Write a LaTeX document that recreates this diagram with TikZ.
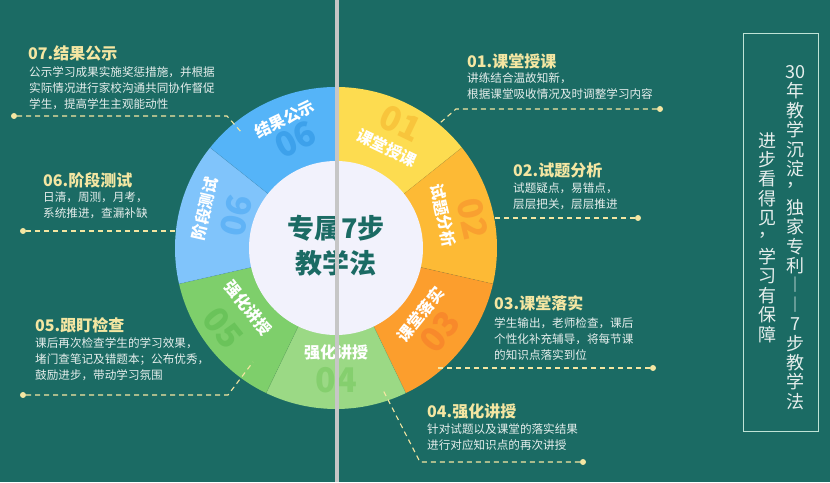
\documentclass[tikz,border=0pt]{standalone}
\usepackage{fontspec}
\setmainfont{Noto Sans CJK SC}
\usetikzlibrary{calc}
\definecolor{bg}{HTML}{1B6B64}
\definecolor{sa}{HTML}{FDDC50}\definecolor{na}{HTML}{F8C53C}
\definecolor{sb}{HTML}{FDBA35}\definecolor{nb}{HTML}{F9A030}
\definecolor{sc}{HTML}{FC9E2D}\definecolor{nc}{HTML}{F8892B}
\definecolor{sd}{HTML}{9BD985}\definecolor{nd}{HTML}{85CF6E}
\definecolor{se}{HTML}{7ECF6B}\definecolor{ne}{HTML}{6AC35A}
\definecolor{sf}{HTML}{80C4FB}\definecolor{nf}{HTML}{60B3F6}
\definecolor{sg}{HTML}{55B4F8}\definecolor{ng}{HTML}{3DA1EB}
\definecolor{inner}{HTML}{F2F2FC}
\definecolor{cream}{HTML}{F4E6A2}
\definecolor{bodytxt}{HTML}{E6EEEC}
\definecolor{boxline}{HTML}{BFE3D6}
\definecolor{divider}{HTML}{C6C6C6}
\tikzset{
  seglabel/.style={font=\fontsize{16}{16}\selectfont\bfseries, text=white, inner sep=0pt},
  segnum/.style={font=\fontsize{34}{34}\selectfont\bfseries, inner sep=0pt},
  title/.style={font=\fontsize{16}{16}\selectfont\bfseries, text=cream, anchor=west, inner sep=0pt},
  body/.style={font=\fontsize{11.6}{16}\selectfont, text=bodytxt, anchor=north west, align=left, inner sep=0pt},
  leader/.style={draw=cream, line width=1.1pt, dash pattern=on 5pt off 4pt},
  enddot/.style={circle, fill=cream, minimum size=6pt, inner sep=0pt},
  vtext/.style={font=\fontsize{18}{19.4}\selectfont, text=bodytxt, align=center, inner sep=0pt},
  sep/.style={draw=black, draw opacity=0.08, line width=0.6pt}
}
\begin{document}
\begin{tikzpicture}[x=1pt,y=1pt]
\useasboundingbox (0,0) rectangle (830,482);
\fill[bg] (0,0) rectangle (830,482);
\coordinate (C) at (336,234);
% wheel segments
\fill[sa] (C) -- ++(90:161) arc[start angle=90, end angle=38.57, radius=161] -- cycle;
\fill[sb] (C) -- ++(38.57:161) arc[start angle=38.57, end angle=-12.86, radius=161] -- cycle;
\fill[sc] (C) -- ++(-12.86:161) arc[start angle=-12.86, end angle=-64.29, radius=161] -- cycle;
\fill[sd] (C) -- ++(-64.29:161) arc[start angle=-64.29, end angle=-115.71, radius=161] -- cycle;
\fill[se] (C) -- ++(-115.71:161) arc[start angle=-115.71, end angle=-167.14, radius=161] -- cycle;
\fill[sf] (C) -- ++(-167.14:161) arc[start angle=-167.14, end angle=-218.57, radius=161] -- cycle;
\fill[sg] (C) -- ++(141.43:161) arc[start angle=141.43, end angle=90, radius=161] -- cycle;
\foreach \a in {38.57,-12.86,-64.29,-115.71,-167.14,141.43}
  \draw[sep] (C) -- ++(\a:161);
% numbers
\node[segnum, text=na, rotate=-25.7] (n1) at ([shift={(62.5:140)}]C) {01};
\node[segnum, text=nb, rotate=-77.1] (n2) at ([shift={(12:140)}]C) {02};
\node[segnum, text=nc, rotate=51.4] (n3) at ([shift={(-38.8:133)}]C) {03};
\node[segnum, text=nd] (n4) at ([shift={(-90:132)}]C) {04};
\node[segnum, text=ne, rotate=-51.4] (n5) at ([shift={(-144.6:138)}]C) {05};
\node[segnum, text=nf, rotate=77.1] (n6) at ([shift={(162:105)}]C) {06};
\node[segnum, text=ng, rotate=25.7] (n7) at ([shift={(110.4:116)}]C) {06};
% inner circle
\fill[inner] (C) circle[radius=87];
% segment labels
\node[seglabel, rotate=-25.7] (l1) at ([shift={(63:112)}]C) {课堂授课};
\node[seglabel, rotate=-77.1] (l2) at ([shift={(17:112)}]C) {试题分析};
\node[seglabel, rotate=51.4] (l3) at ([shift={(-38:108)}]C) {课堂落实};
\node[seglabel] (l4) at ([shift={(-90:104)}]C) {强化讲授};
\node[seglabel, rotate=-51.4] (l5) at ([shift={(-145.7:106.5)}]C) {强化讲授};
\node[seglabel, rotate=77.1] (l6) at ([shift={(163.3:137)}]C) {阶段测试};
\node[seglabel, rotate=25.7] (l7) at ([shift={(111.7:139)}]C) {结果公示};
% center title
\node[font=\fontsize{27}{35}\selectfont\bfseries, text=bg, align=center, inner sep=0pt] (ctr) at (336,236) {专属7步\\教学法};
% callout texts
\node[title] (t7) at (28,429) {07.结果公示};
\node[body] (b7) at (29,416) {公示学习成果实施奖惩措施，并根据\\实际情况进行家校沟通共同协作督促\\学生，提高学生主观能动性};
\node[title] (t1) at (467,421) {01.课堂授课};
\node[body] (b1) at (467,409) {讲练结合温故知新，\\根据课堂吸收情况及时调整学习内容};
\node[title] (t2) at (513,312) {02.试题分析};
\node[body] (b2) at (513,299) {试题疑点，易错点，\\层层把关，层层推进};
\node[title] (t3) at (494,179) {03.课堂落实};
\node[body] (b3) at (494,165) {学生输出，老师检查，课后\\个性化补充辅导，将每节课\\的知识点落实到位};
\node[title] (t4) at (427,71) {04.强化讲授};
\node[body] (b4) at (427,59) {针对试题以及课堂的落实结果\\进行对应知识点的再次讲授};
\node[title] (t5) at (35,157) {05.跟盯检查};
\node[body] (b5) at (35,145) {课后再次检查学生的学习效果，\\堵门查笔记及错题本；公布优秀，\\鼓励进步，带动学习氛围};
\node[title] (t6) at (43,302) {06.阶段测试};
\node[body] (b6) at (43,290) {日清，周测，月考，\\系统推进，查漏补缺};
% leaders
\node[enddot] (d7) at (14,366) {};
\coordinate (k7) at (227,366);
\coordinate (e7) at (242,349);
\draw[leader] (d7) -- (k7) -- (e7);
\node[enddot] (d1) at (660,373) {};
\coordinate (k1) at (456,373);
\coordinate (e1) at (440,359);
\draw[leader] (d1) -- (k1) -- (e1);
\node[enddot] (d2) at (638,264) {};
\coordinate (e2) at (492,264);
\draw[leader] (d2) -- (e2);
\node[enddot] (d3) at (653,114) {};
\coordinate (e3) at (438,114);
\draw[leader] (d3) -- (e3);
\node[enddot] (d4) at (583,20) {};
\coordinate (k4) at (420,20);
\coordinate (e4) at (383,92);
\draw[leader] (d4) -- (k4) -- (e4);
\node[enddot] (d5) at (23,87) {};
\coordinate (k5) at (228,87);
\coordinate (e5) at (253,120);
\draw[leader] (d5) -- (k5) -- (e5);
\node[enddot] (d6) at (23,251) {};
\coordinate (e6) at (176,251);
\draw[leader] (d6) -- (e6);
% right box
\draw[boxline, line width=0.9pt] (743,51) rectangle (818,449);
\node[vtext] (vr) at (795,244.5) {30\\年\\教\\学\\沉\\淀\\\raisebox{.45em}{，}\\独\\家\\专\\利\\︱\\︱\\7\\步\\教\\学\\法};
\node[vtext] (vl) at (767,244.5) {进\\步\\看\\得\\见\\\raisebox{.45em}{，}\\学\\习\\有\\保\\障};
% divider line
\fill[divider] (335,0) rectangle (339,482);
\end{tikzpicture}
\end{document}
